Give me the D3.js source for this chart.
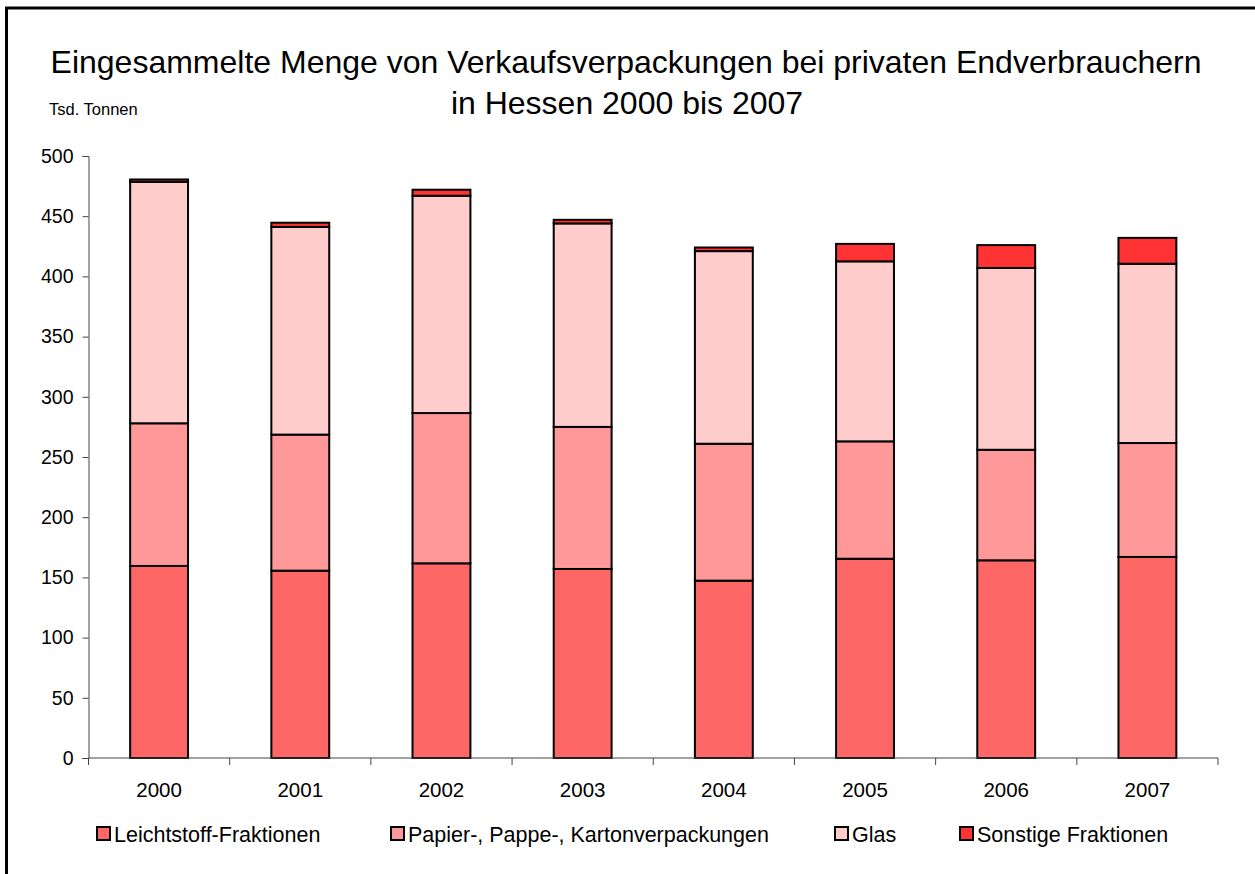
<!DOCTYPE html>
<html>
<head>
<meta charset="utf-8">
<script src="https://cdn.jsdelivr.net/npm/d3@7"></script>
<style>
  body { margin: 0; background: #fff; }
  svg { display: block; font-family: "Liberation Sans", Arial, sans-serif; }
</style>
</head>
<body>
<div id="chart"></div>
<script>
// data (Tsd. Tonnen)
const years = ["2000", "2001", "2002", "2003", "2004", "2005", "2006", "2007"];
const leichtstoff = [159.5, 155.6, 161.7, 157, 147.3, 165.5, 164.2, 167];
const papier = [118.5, 113, 124.8, 118, 113.7, 97.5, 91.8, 94.6];
const glas = [200.5, 172.5, 180.5, 169, 160, 149.5, 151, 148.9];
const sonstige = [2, 3.5, 5, 3, 3, 14.5, 19, 21.5];
const seriesNames = ["Leichtstoff-Fraktionen", "Papier-, Pappe-, Kartonverpackungen", "Glas", "Sonstige Fraktionen"];
const colors = ["#FF6666", "#FF9999", "#FFCCCC", "#FF3333"];
const yTicks = [0, 50, 100, 150, 200, 250, 300, 350, 400, 450, 500];

const W = 1255, H = 874;
const margin = { top: 156, right: 37, bottom: 116, left: 88.5 };
const width = W - margin.left - margin.right,
      height = H - margin.top - margin.bottom;

const svg = d3.select("#chart").append("svg")
    .attr("width", W)
    .attr("height", H);

// outer frame (only left/top edges visible)
svg.append("rect")
    .attr("x", 6.5).attr("y", 8)
    .attr("width", 1400).attr("height", 1000)
    .attr("fill", "none")
    .attr("stroke", "#000")
    .attr("stroke-width", 3);

// title
svg.append("text")
    .attr("x", 626).attr("y", 73)
    .attr("text-anchor", "middle")
    .style("font-size", "32px")
    .text("Eingesammelte Menge von Verkaufsverpackungen bei privaten Endverbrauchern");
svg.append("text")
    .attr("x", 627).attr("y", 114)
    .attr("text-anchor", "middle")
    .style("font-size", "32px")
    .text("in Hessen 2000 bis 2007");
svg.append("text")
    .attr("x", 49).attr("y", 115)
    .style("font-size", "16.5px")
    .text("Tsd. Tonnen");

const g = svg.append("g")
    .attr("transform", "translate(" + margin.left + "," + margin.top + ")");

const x = d3.scaleBand()
    .domain(years)
    .range([0, width])
    .paddingInner(0.59)
    .paddingOuter(0.295);

const xTicks = d3.scaleBand().domain(years).range([0, width]);

const y = d3.scaleLinear()
    .domain([0, 500])
    .range([height, 0]);

// stacked data
const table = years.map((yr, i) => ({
    year: yr, s0: leichtstoff[i], s1: papier[i], s2: glas[i], s3: sonstige[i]
}));
const stack = d3.stack().keys(["s0", "s1", "s2", "s3"])(table);

g.selectAll("g.layer")
    .data(stack)
    .enter().append("g")
    .attr("class", "layer")
    .attr("fill", (d, i) => colors[i])
    .selectAll("rect")
    .data(d => d)
    .enter().append("rect")
    .attr("x", d => x(d.data.year))
    .attr("y", d => y(d[1]))
    .attr("width", x.bandwidth())
    .attr("height", d => y(d[0]) - y(d[1]))
    .attr("stroke", "#000")
    .attr("stroke-width", 2);

// y axis
const yAxis = g.append("g")
    .call(d3.axisLeft(y).tickValues(yTicks).tickSize(6).tickPadding(9));
yAxis.select(".domain").attr("stroke", "#444");
yAxis.selectAll(".tick line").attr("stroke", "#444");
yAxis.selectAll("text").style("font-size", "19.5px").attr("fill", "#000");

// x axis with ticks between categories
const xAxis = g.append("g")
    .attr("transform", "translate(0," + height + ")");
xAxis.append("line")
    .attr("x1", 0).attr("x2", width)
    .attr("stroke", "#444");
xAxis.selectAll("line.tk")
    .data(years.concat(["end"]))
    .enter().append("line")
    .attr("class", "tk")
    .attr("x1", (d, i) => i < years.length ? xTicks(d) : width)
    .attr("x2", (d, i) => i < years.length ? xTicks(d) : width)
    .attr("y1", 0).attr("y2", 7)
    .attr("stroke", "#444");
xAxis.selectAll("text")
    .data(years)
    .enter().append("text")
    .attr("x", d => xTicks(d) + xTicks.bandwidth() / 2)
    .attr("y", 39)
    .attr("text-anchor", "middle")
    .style("font-size", "20.5px")
    .text(d => d);

// legend
const legendX = [97, 391, 835, 960];
const legend = svg.append("g").attr("transform", "translate(0,834)");
const items = legend.selectAll("g")
    .data(seriesNames)
    .enter().append("g")
    .attr("transform", (d, i) => "translate(" + legendX[i] + ",0)");
items.append("rect")
    .attr("x", 0).attr("y", -7)
    .attr("width", 13).attr("height", 13)
    .attr("fill", (d, i) => colors[i])
    .attr("stroke", "#000")
    .attr("stroke-width", 2);
items.append("text")
    .attr("x", 17).attr("y", 8)
    .style("font-size", "21.5px")
    .text(d => d);
</script>
</body>
</html>
